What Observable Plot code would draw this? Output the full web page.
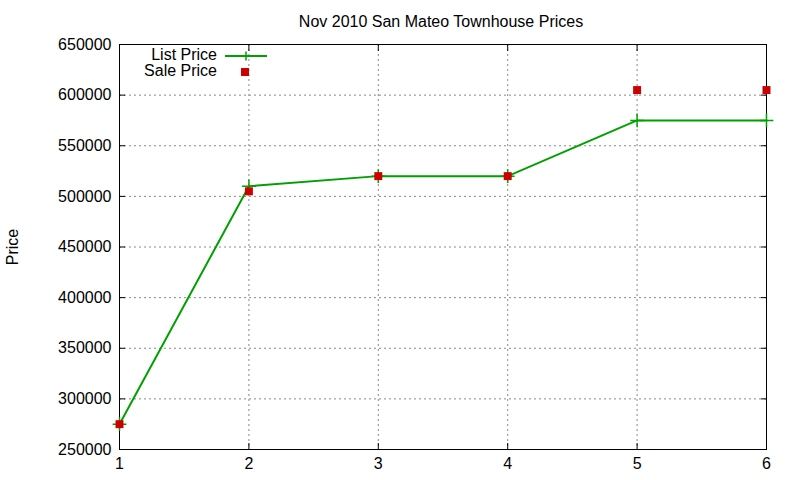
<!DOCTYPE html>
<html>
<head>
<meta charset="utf-8">
<script src="https://cdn.jsdelivr.net/npm/d3@7"></script>
<script src="https://cdn.jsdelivr.net/npm/@observablehq/plot@0.6"></script>
<style>
  html, body { margin: 0; padding: 0; background: #fff; }
  body { font-family: "Liberation Sans", Arial, sans-serif; }
  #wrap { position: relative; width: 800px; height: 480px; }
  #legend { position: absolute; left: 0; top: 0; font-size: 16px; color: #000; }
  .row { position: absolute; white-space: nowrap; }
</style>
</head>
<body>
<div id="wrap"></div>
<script>
const title = "Nov 2010 San Mateo Townhouse Prices";
const yLabel = "Price";
const xValues = [1, 2, 3, 4, 5, 6];
const listPrice = [275000, 510000, 520000, 520000, 575000, 575000];
const salePrice = [275000, 505000, 520000, 520000, 605000, 605000];
const xTicks = [1, 2, 3, 4, 5, 6];
const yTicks = [250000, 300000, 350000, 400000, 450000, 500000, 550000, 600000, 650000];
const seriesNames = ["List Price", "Sale Price"];
const listColor = "#00a000";
const saleColor = "#cc0000";

const listData = xValues.map((x, i) => ({x, y: listPrice[i]}));
const saleData = xValues.map((x, i) => ({x, y: salePrice[i]}));

const chart = Plot.plot({
  width: 800,
  height: 480,
  marginLeft: 119,
  marginRight: 34,
  marginTop: 44,
  marginBottom: 31,
  style: { fontFamily: "'Liberation Sans', Arial, sans-serif", fontSize: "16px", color: "#000", background: "#fff" },
  x: { domain: [1, 6] },
  y: { domain: [250000, 650000] },
  marks: [
    Plot.gridX(xTicks.slice(1, -1), { stroke: "#888", strokeOpacity: 1, strokeDasharray: "2,3" }),
    Plot.gridY(yTicks.slice(1, -1), { stroke: "#888", strokeOpacity: 1, strokeDasharray: "2,3" }),
    Plot.axisX(xTicks, { anchor: "bottom", tickSize: -6, tickPadding: 14, tickFormat: d => String(d), label: null, fontSize: 16 }),
    Plot.axisX(xTicks, { anchor: "top", tickSize: -6, tickFormat: null, text: null, label: null }),
    Plot.axisY(yTicks, { anchor: "left", tickSize: -6, tickPadding: 14, tickFormat: d => String(d), label: yLabel, labelAnchor: "center", labelArrow: "none", labelOffset: 113, fontSize: 16 }),
    Plot.axisY(yTicks, { anchor: "right", tickSize: -6, text: null, label: null }),
    Plot.frame({ stroke: "#000", strokeWidth: 1 }),
    Plot.line(listData, { x: "x", y: "y", stroke: listColor, strokeWidth: 2 }),
    Plot.dot(listData, { x: "x", y: "y", symbol: "plus", stroke: listColor, strokeWidth: 1.5, r: 4.5 }),
    Plot.dot(saleData, { x: "x", y: "y", symbol: "square", fill: saleColor, stroke: "none", r: 4.5 }),
    Plot.text([title], { frameAnchor: "top", dy: -18, dx: -2, fontSize: 16, text: d => d, lineAnchor: "bottom" })
  ]
});
document.getElementById("wrap").appendChild(chart);

// legend overlay (gnuplot-style key, top-left inside plot)
const legend = document.createElement("div");
legend.id = "legend";
legend.innerHTML = `
  <div class="row" style="left:0;top:46px;width:217px;text-align:right;">${seriesNames[0]}</div>
  <svg class="row" style="left:222px;top:48px;" width="50" height="16">
    <line x1="3" y1="8" x2="45" y2="8" stroke="${listColor}" stroke-width="2"/>
    <line x1="24" y1="3.5" x2="24" y2="12.5" stroke="${listColor}" stroke-width="1.5"/>
    <line x1="19.5" y1="8" x2="28.5" y2="8" stroke="${listColor}" stroke-width="1.5"/>
  </svg>
  <div class="row" style="left:0;top:62px;width:217px;text-align:right;">${seriesNames[1]}</div>
  <svg class="row" style="left:222px;top:64px;" width="50" height="16">
    <rect x="19" y="4" width="8" height="8" fill="${saleColor}"/>
  </svg>`;
document.getElementById("wrap").appendChild(legend);
</script>
</body>
</html>
